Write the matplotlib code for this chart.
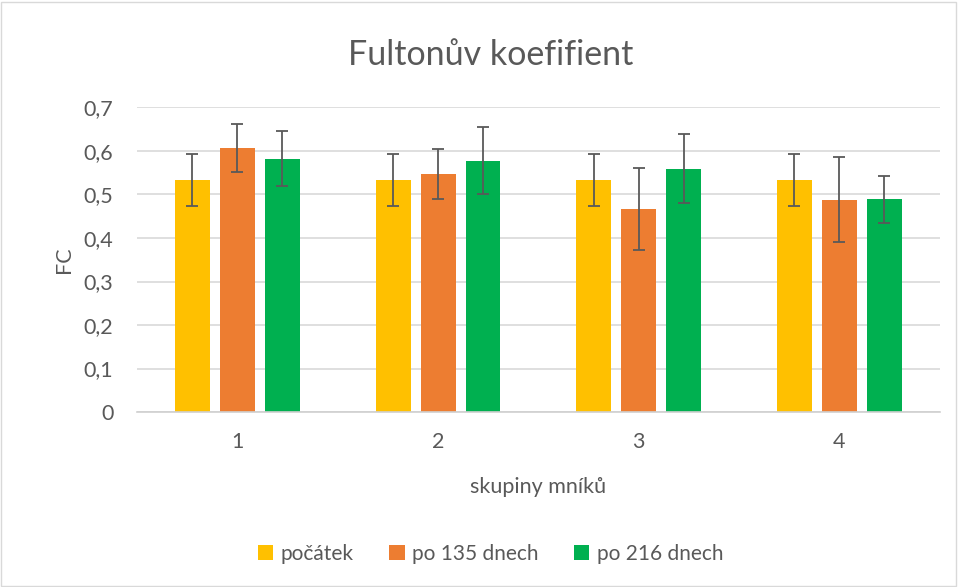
import numpy as np
import matplotlib.pyplot as plt
from matplotlib.patches import Rectangle

plt.rcParams['font.family'] = ['Lato', 'DejaVu Sans']

# data
skupiny = ['1', '2', '3', '4']
pocatek = [0.533, 0.533, 0.533, 0.533]
pocatek_err = [0.059, 0.059, 0.059, 0.059]
po135 = [0.607, 0.547, 0.467, 0.488]
po135_err = [0.055, 0.057, 0.094, 0.097]
po216 = [0.582, 0.578, 0.559, 0.489]
po216_err = [0.063, 0.076, 0.079, 0.054]

serie = [
    ('počátek', pocatek, pocatek_err, '#FFC000'),
    ('po 135 dnech', po135, po135_err, '#ED7D31'),
    ('po 216 dnech', po216, po216_err, '#00B050'),
]

text_col = '#595959'

fig = plt.figure(figsize=(9.58, 5.87), dpi=100)
ax = fig.add_axes([0.143, 0.298, 0.838, 0.519])

x = np.arange(1, len(skupiny) + 1)
sirka = 0.174
krok = 0.224
for i, (nazev, hodnoty, chyby, barva) in enumerate(serie):
    ax.bar(x + (i - 1) * krok, hodnoty, sirka, color=barva, label=nazev, zorder=2)
    ax.errorbar(x + (i - 1) * krok, hodnoty, yerr=chyby, fmt='none',
                ecolor='#595959', elinewidth=1.3, capsize=4.5, capthick=1.3, zorder=3)

ax.set_xlim(0.5, 4.5)
ax.set_ylim(0, 0.7)
ax.set_yticks(np.arange(0, 0.71, 0.1))
ax.set_yticklabels(['0'] + [f'0,{i}' for i in range(1, 8)])
ax.set_xticks(x)
ax.set_xticklabels(skupiny)
ax.yaxis.grid(True, color='#d9d9d9', linewidth=1.2, zorder=0)
ax.set_axisbelow(True)
for s in ['top', 'right', 'left']:
    ax.spines[s].set_visible(False)
ax.spines['bottom'].set_color('#d0d0d0')
ax.spines['bottom'].set_linewidth(1.2)
ax.tick_params(axis='both', length=0, labelsize=15.5, colors=text_col)
ax.tick_params(axis='x', pad=14)
ax.tick_params(axis='y', pad=17)

ax.set_xlabel('skupiny mníků', fontsize=15.5, color=text_col, labelpad=18)
ax.set_ylabel('FC', fontsize=15.5, color=text_col, labelpad=7)
fig.text(0.512, 0.906, 'Fultonův koefifient', fontsize=24.5, color=text_col,
         ha='center', va='center')

fig.legend(loc='center', bbox_to_anchor=(0.512, 0.057), ncol=3, frameon=False,
           fontsize=15, handlelength=0.75, handleheight=0.75, handletextpad=0.35,
           columnspacing=1.7, labelcolor=text_col)

fig.patches.append(Rectangle((0.001, 0.002), 0.997, 0.995, transform=fig.transFigure,
                             fill=False, edgecolor='#d9d9d9', linewidth=1))

fig.savefig('out.png', dpi=100)
